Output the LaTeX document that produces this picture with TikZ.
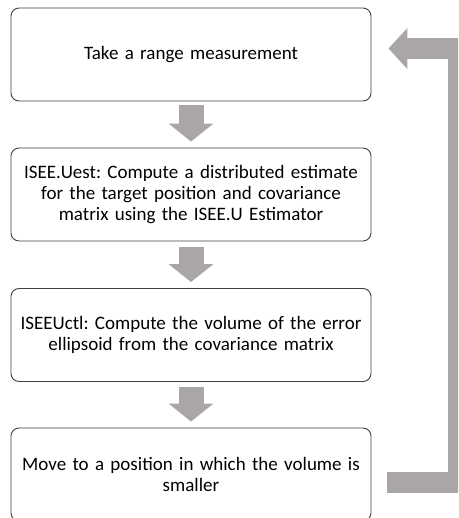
\documentclass[tikz,border=0pt]{standalone}
\usepackage{fontspec}
\setmainfont{Carlito}
\usetikzlibrary{arrows.meta,calc}
\definecolor{flowgrey}{RGB}{170,166,165}
\definecolor{boxline}{RGB}{64,64,64}
\begin{document}
\frenchspacing
\begin{tikzpicture}[x=1pt,y=-1pt,
  stepbox/.style={draw=boxline,line width=0.9pt,rounded corners=8pt,fill=white,
    minimum width=360pt,minimum height=93pt,text width=352pt,align=center,
    inner sep=0pt,font=\fontsize{19}{21}\selectfont},
  downarrow/.style={draw=flowgrey,line width=25pt,
    -{Triangle[length=18pt,width=44pt,fill=flowgrey]}},
  looparrow/.style={draw=flowgrey,line width=21pt,miter limit=10,
    -{Triangle[length=19pt,width=40pt,fill=flowgrey]}}]
\useasboundingbox (0,0) rectangle (458,518);
\clip (0,0) rectangle (458,518);

% process steps
\node[stepbox] (b1) at (191,54.5) {Take a range measurement};
\node[stepbox] (b2) at (191,194.5) {ISEE.Uest: Compute a distributed estimate\\for the target position and covariance\\matrix using the ISEE.U Estimator};
\node[stepbox] (b3) at (191,335) {ISEEUctl: Compute the volume of the error\\ellipsoid from the covariance matrix};
\node[stepbox] (b4) at (191,474.5) {Move to a position in which the volume is\\smaller};

% block arrows between consecutive steps
\draw[downarrow] ([yshift=-4pt]b1.south) -- ([yshift=6pt]b2.north);
\draw[downarrow] ([yshift=-6pt]b2.south) -- ([yshift=6pt]b3.north);
\draw[downarrow] ([yshift=-5pt]b3.south) -- ([yshift=6pt]b4.north);

% feedback loop back to the first step
\coordinate (loopstart) at ($(b4.east)+(16,7.5)$);
\coordinate (loopend) at ($(b1.east)+(17,-6)$);
\draw[looparrow] (loopstart) -- (458.5,482) -- (458.5,48.5) -- (loopend);
\end{tikzpicture}
\end{document}
